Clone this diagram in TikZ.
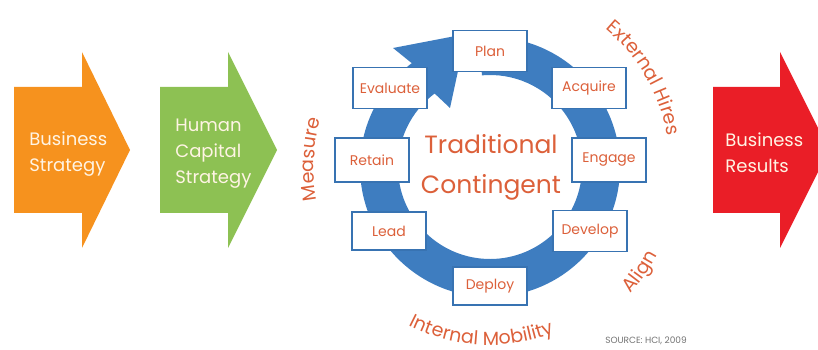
\documentclass[tikz,border=0pt]{standalone}
\usepackage{fontspec}
\setmainfont{Poppins}
\usepackage{tikz}
\usetikzlibrary{positioning,decorations.text}
\definecolor{bizorange}{RGB}{246,146,30}
\definecolor{hcgreen}{RGB}{141,193,83}
\definecolor{resultred}{RGB}{234,30,39}
\definecolor{ringblue}{RGB}{62,125,192}
\definecolor{boxblue}{RGB}{56,115,178}
\definecolor{txtorange}{RGB}{220,96,58}
\definecolor{cream}{RGB}{255,244,228}
\newcommand\curvefont{\fontsize{19}{22}\selectfont\color{txtorange}}

\begin{document}
\begin{tikzpicture}[x=1pt,y=1pt,thick]
		\tikzstyle{stage}=[rectangle,draw=boxblue,line width=1.8pt,fill=white,minimum width=74pt,minimum height=41pt,inner sep=0pt,text=txtorange,font=\fontsize{14}{16}\selectfont]
		\tikzstyle{arrowtext}=[anchor=west,align=left,inner sep=0pt,text=cream,font=\fontsize{18}{26}\selectfont]
		\tikzstyle{curved}=[decorate,decoration={text along path,text align=center}]
		
		\clip (0,0) rectangle (818,350);
		
		% big arrows
		\fill[bizorange] (14,263) -- (82,263) -- (82,298) -- (130,200) -- (82,102) -- (82,137) -- (14,137) -- cycle;
		\fill[hcgreen] (160,263) -- (228,263) -- (228,298) -- (277,200) -- (228,102) -- (228,137) -- (160,137) -- cycle;
		\fill[resultred] (713,263) -- (780,263) -- (780,298) -- (829,200) -- (780,102) -- (780,137) -- (713,137) -- cycle;
		\node[arrowtext] (bizstrategy) at (29,196) {Business\\Strategy};
		\node[arrowtext] (hcstrategy) at (175,196) {Human\\Capital\\Strategy};
		\node[arrowtext] (bizresults) at (725,197) {Business\\Results};
		
		% ring with head
		\begin{scope}[shift={(490,183)}]
			\fill[ringblue] (95:130pt) arc[start angle=95,end angle=-233,radius=130pt] -- (-97,119) -- (-24,133) -- (-40,59) -- (-233:92pt) arc[start angle=-233,end angle=95,radius=92pt] -- cycle;
		\end{scope}
		
		\node[stage] (plan) at (490,299) {Plan};
		\node[stage] (acquire) at (589,262) {Acquire};
		\node[stage,minimum height=44pt] (engage) at (609,190) {Engage};
		\node[stage] (develop) at (590,119) {Develop};
		\node[stage,minimum height=38pt] (deploy) at (490,64) {Deploy};
		\node[stage,minimum height=38pt] (lead) at (389,119) {Lead};
		\node[stage,minimum height=44pt] (retain) at (372,190) {Retain};
		\node[stage] (evaluate) at (390,262) {Evaluate};
		
		\node[align=center,inner sep=0pt,text=txtorange,font=\fontsize{25}{40}\selectfont] (hubtext) at (491,183) {Traditional\\Contingent};
		
		% texts round the ring
		\path[curved,decoration={text={|\curvefont|External Hires}},shift={(490,183)}] (65:180pt) arc[start angle=65,end angle=-5,radius=180pt];
		\path[curved,decoration={text={|\curvefont|Measure}},shift={(490,183)}] (210:176pt) arc[start angle=210,end angle=145,radius=176pt];
		\path[curved,decoration={text={|\curvefont|Align}},shift={(490,183)}] (-70:189pt) arc[start angle=-70,end angle=0,radius=189pt];
		\path[curved,decoration={text={|\curvefont|Internal Mobility}},shift={(490,183)}] (-150:178pt) arc[start angle=-150,end angle=-36,radius=178pt];
		
		\node[inner sep=0pt,text=black!55,font=\fontsize{9}{11}\selectfont] (source) at (646,9) {SOURCE: HCI, 2009};
	\end{tikzpicture}
\end{document}
